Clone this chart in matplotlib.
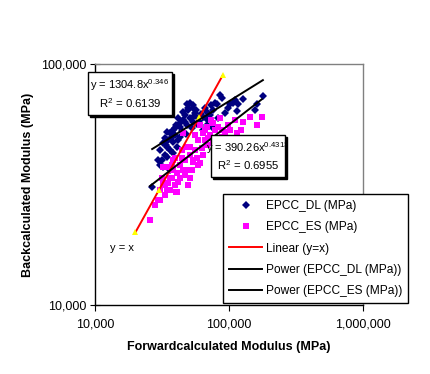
import numpy as np
import matplotlib
matplotlib.use("Agg")
import matplotlib.pyplot as plt
from matplotlib.ticker import FuncFormatter, FixedLocator, NullLocator
from matplotlib.lines import Line2D
from matplotlib.patches import Rectangle

plt.rcParams['font.family'] = ['Liberation Sans', 'DejaVu Sans']
plt.rcParams['mathtext.default'] = 'regular'

# EPCC_DL (MPa): forward vs backcalculated, thousands of MPa
dl_forward = [179, 161.7, 126.2, 116.8, 114.9, 107.5, 85.7, 88.7, 81.4, 78.6,
              48.6, 51.2, 53.9, 49.8, 68.5, 72.1, 75.9, 58.6, 53.9, 43.1,
              38.2, 36.3, 34.4, 35.1, 38.2, 43.1, 34.4, 32.2, 40.9, 38.2,
              34.4, 31.6, 32.2, 36.3, 26.7, 45.4, 48.6, 68.5, 74.7, 64.0,
              110.9, 53.9, 47.0, 51.2, 55.7, 60.7, 64.0, 47.0, 41.6, 53.1,
              57.5, 44.7, 40.2, 66.2, 69.7, 98.3, 93.4, 36.3, 39.5, 33.3,
              30.5, 29.5, 156.3, 83.0, 45.4, 49.8, 56.7, 61.8, 67.4, 43.1,
              39.5, 36.9, 33.8, 41.6, 47.8, 54.8, 73.4, 30.5, 33.3, 101.7]
dl_back = [73.7, 68.2, 71.6, 68.2, 64.1, 69.2, 74.4, 72.3, 68.2, 69.2,
           68.2, 69.2, 65.7, 64.4, 63.2, 61.4, 64.4, 59.7, 57.5, 54.8,
           53.2, 51.7, 52.2, 48.4, 47.5, 49.7, 45.2, 47.1, 45.2, 42.8,
           41.1, 40.0, 37.4, 36.3, 30.9, 58.6, 55.8, 55.8, 54.8, 53.2,
           70.9, 67.6, 61.4, 59.7, 62.6, 58.6, 60.0, 57.5, 59.7, 54.3,
           56.3, 52.7, 55.8, 65.7, 58.6, 65.7, 62.6, 44.0, 50.7, 49.1,
           44.0, 40.0, 64.4, 59.7, 63.2, 65.7, 64.4, 62.0, 59.7, 57.0,
           54.3, 49.1, 46.1, 48.4, 51.2, 61.0, 67.6, 38.1, 41.9, 68.2]

# EPCC_ES (MPa)
es_forward = [175.8, 161.7, 143.5, 126.2, 123.9, 114.9, 101.7, 89.0, 88.7, 75.9,
              68.5, 64.0, 75.9, 68.5, 85.7, 73.4, 66.2, 64.0, 58.6, 53.9,
              45.4, 40.9, 34.4, 30.5, 25.7, 48.6, 45.4, 38.2, 51.2, 32.2,
              31.6, 35.1, 60.7, 48.6, 43.1, 40.2, 37.6, 32.2, 29.5, 53.9,
              34.4, 38.2, 60.7, 66.2, 72.1, 78.6, 58.6, 55.7, 51.2, 47.0,
              43.1, 40.9, 36.3, 33.3, 30.5, 44.7, 55.7, 78.6, 98.3, 110.9,
              49.8, 41.6, 39.5, 36.3, 33.3, 39.5, 47.0, 52.5, 57.5, 63.0,
              69.7, 83.0, 93.4, 28.0, 37.6, 44.7, 51.2]
es_back = [60.2, 55.8, 60.2, 57.5, 53.2, 51.7, 53.2, 49.7, 53.2, 56.8,
           54.8, 51.7, 47.1, 46.1, 59.7, 58.6, 48.4, 41.9, 38.1, 40.0,
           36.3, 29.4, 30.0, 27.3, 22.5, 45.2, 51.7, 40.0, 33.7, 37.4,
           33.7, 32.1, 38.9, 36.3, 33.7, 29.4, 33.7, 32.1, 27.3, 39.2,
           37.4, 36.3, 55.8, 53.2, 50.7, 53.2, 48.4, 44.0, 41.9, 40.0,
           38.1, 35.3, 33.7, 31.5, 30.0, 44.0, 50.7, 48.4, 55.8, 58.6,
           31.5, 32.3, 40.8, 30.0, 28.6, 31.5, 34.6, 36.3, 40.8, 44.8,
           49.1, 54.8, 52.2, 26.0, 38.1, 40.8, 45.2]

# line of equality points
linear_x = [20000, 30000, 60000, 90000]
linear_y = [20000, 30000, 60000, 90000]

# power trendlines y = a * x^b
dl_a, dl_b, dl_r2 = 1304.8, 0.346, 0.6139
es_a, es_b, es_r2 = 390.26, 0.4313, 0.6955

x_ticks = [10000, 100000, 1000000]
y_ticks = [10000, 100000]

dl_x = np.array(dl_forward) * 1000
dl_y = np.array(dl_back) * 1000
es_x = np.array(es_forward) * 1000
es_y = np.array(es_back) * 1000

W, H = 431, 374
fig = plt.figure(figsize=(W / 100, H / 100), dpi=100)
ax = fig.add_axes([95 / W, 1 - 305 / H, 268 / W, 241 / H])
ax.set_xscale('log')
ax.set_yscale('log')

ax.plot(dl_x, dl_y, 'D', color='#000080', markersize=4.2, markeredgewidth=0, zorder=2)
ax.plot(es_x, es_y, 's', color='#FF00FF', markersize=4.5, markeredgewidth=0, zorder=3)

ax.plot(linear_x, linear_y, '-', color='#FF0000', linewidth=1.4, zorder=4)
ax.plot(linear_x, linear_y, '^', color='#FFFF00', markersize=4.5,
        markeredgewidth=0, zorder=5)

xf = np.geomspace(dl_x.min(), dl_x.max(), 100)
ax.plot(xf, dl_a * xf ** dl_b, color='black', linewidth=1.4, zorder=6)
xf = np.geomspace(es_x.min(), es_x.max(), 100)
ax.plot(xf, es_a * xf ** es_b, color='black', linewidth=1.4, zorder=6)

ax.text(12900, 17200, 'y = x', fontsize=8, ha='left', va='center')

ax.set_xlim(1e4, 1e6)
ax.set_ylim(1e4, 1e5)
ax.xaxis.set_major_locator(FixedLocator(x_ticks))
ax.yaxis.set_major_locator(FixedLocator(y_ticks))
ax.xaxis.set_minor_locator(NullLocator())
ax.yaxis.set_minor_locator(NullLocator())
fmt = FuncFormatter(lambda v, p: f'{int(round(v)):,}')
ax.xaxis.set_major_formatter(fmt)
ax.yaxis.set_major_formatter(fmt)
ax.tick_params(axis='x', direction='out', length=4, labelsize=9, pad=6)
ax.tick_params(axis='y', direction='inout', length=7, labelsize=9, pad=3)

for s in ['top', 'right']:
    ax.spines[s].set_color('#808080')
    ax.spines[s].set_linewidth(1)
for s in ['left', 'bottom']:
    ax.spines[s].set_color('black')
    ax.spines[s].set_linewidth(1)

ax.set_xlabel('Forwardcalculated Modulus (MPa)', fontsize=9, fontweight='bold', labelpad=7)
ax.set_ylabel('Backcalculated Modulus (MPa)', fontsize=9, fontweight='bold', labelpad=5)


def eq_box(x0, y0, x1, y1, line1, line2):
    # shadowed white box in figure pixels
    fx = lambda v: v / W
    fy = lambda v: 1 - v / H
    fig.add_artist(Rectangle((fx(x0 + 2), fy(y1 + 2)), (x1 - x0) / W, (y1 - y0) / H,
                             transform=fig.transFigure, facecolor='black',
                             edgecolor='black', zorder=10))
    fig.add_artist(Rectangle((fx(x0), fy(y1)), (x1 - x0) / W, (y1 - y0) / H,
                             transform=fig.transFigure, facecolor='white',
                             edgecolor='black', linewidth=1, zorder=11))
    cx = (x0 + x1) / 2
    fig.text(fx(cx), fy(y0 + (y1 - y0) * 0.3), line1, ha='center', va='center',
             fontsize=8, zorder=12)
    fig.text(fx(cx), fy(y0 + (y1 - y0) * 0.72), line2, ha='center', va='center',
             fontsize=8.2, zorder=12)


eq_box(88, 72, 172, 115, f'y = {dl_a}x$^{{{dl_b}}}$', f'R$^2$ = {dl_r2}')
eq_box(211, 135, 285, 177, f'y = {es_a}x$^{{{es_b}}}$', f'R$^2$ = {es_r2}')

handles = [
    Line2D([], [], linestyle='none', marker='D', color='#000080', markersize=4.2, markeredgewidth=0),
    Line2D([], [], linestyle='none', marker='s', color='#FF00FF', markersize=4.5, markeredgewidth=0),
    Line2D([], [], color='#FF0000', linewidth=1.4),
    Line2D([], [], color='black', linewidth=1.4),
    Line2D([], [], color='black', linewidth=1.4),
]
labels = ['EPCC_DL (MPa)', 'EPCC_ES (MPa)', 'Linear (y=x)',
          'Power (EPCC_DL (MPa))', 'Power (EPCC_ES (MPa))']
leg = fig.legend(handles, labels, loc='upper left', bbox_to_anchor=(223 / W, 1 - 194 / H),
                 bbox_transform=fig.transFigure, fontsize=8.6, frameon=True,
                 fancybox=False, edgecolor='black', framealpha=1, borderpad=0.5,
                 labelspacing=0.78, handlelength=2.8, handletextpad=0.3,
                 borderaxespad=0)
leg.get_frame().set_linewidth(1)
leg.set_zorder(20)

fig.savefig('out.png', dpi=100)
